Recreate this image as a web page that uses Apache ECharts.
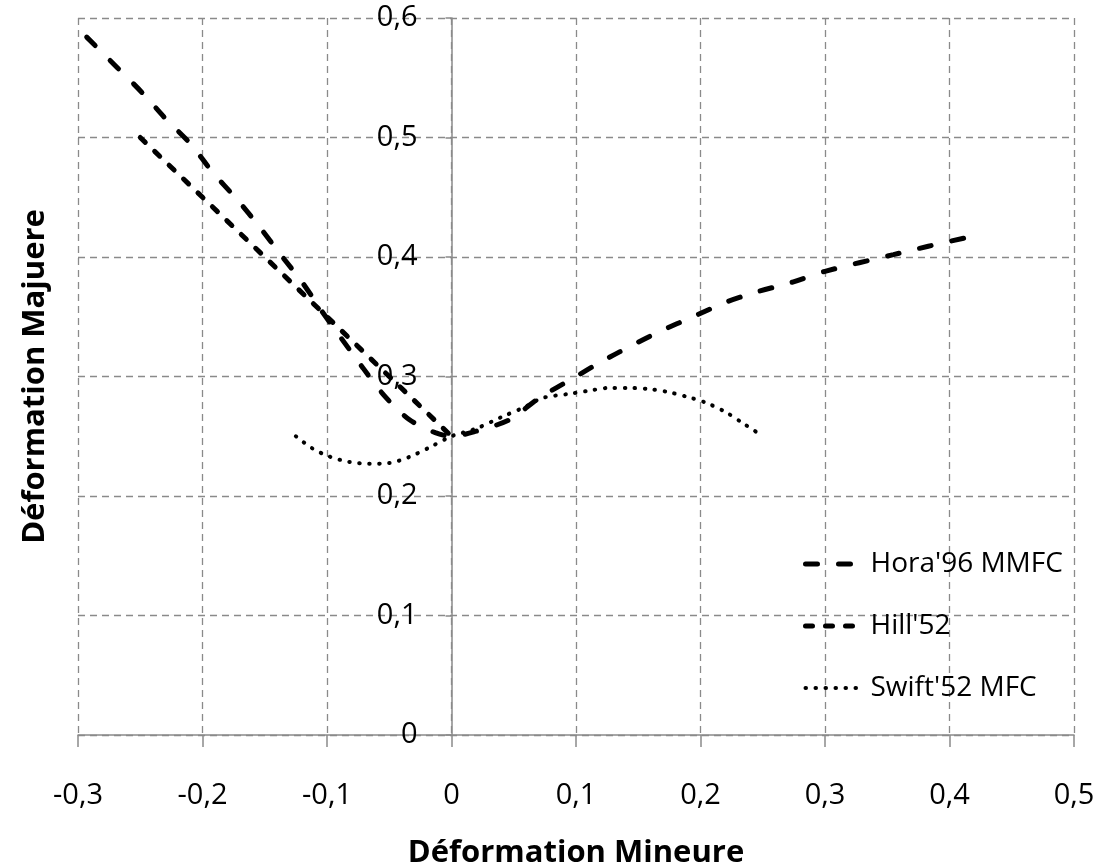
<!DOCTYPE html>
<html>
<head>
<meta charset="utf-8">
<script src="https://cdn.jsdelivr.net/npm/echarts@6/dist/echarts.min.js"></script>
<style>
  html, body { margin: 0; padding: 0; background: #fff; }
  #chart { width: 1099px; height: 868px; }
</style>
</head>
<body>
<div id="chart"></div>
<script>
// Forming limit curves: major strain vs minor strain
const seriesNames = ["Hora'96 MMFC", "Hill'52", "Swift'52 MFC"];

const horaX = [-0.293, -0.268, -0.248, -0.229, -0.209, -0.192, -0.173, -0.154, -0.138, -0.120, -0.105, -0.092, -0.071, -0.054, -0.034, -0.013, 0,
               0.019, 0.047, 0.069, 0.1, 0.118, 0.143, 0.168, 0.194, 0.22, 0.246, 0.274, 0.3, 0.355, 0.383, 0.417];
const horaY = [0.584, 0.558, 0.537, 0.515, 0.494, 0.471, 0.449, 0.425, 0.403, 0.379, 0.356, 0.337, 0.307, 0.284, 0.264, 0.253, 0.25,
               0.254, 0.264, 0.281, 0.3, 0.311, 0.325, 0.338, 0.350, 0.362, 0.371, 0.379, 0.388, 0.402, 0.409, 0.417];

const hillX = [-0.25, -0.2, -0.15, -0.1, -0.05, 0];
const hillY = [0.5, 0.45, 0.4, 0.35, 0.3, 0.25];

const swiftX = [-0.125, -0.112, -0.098, -0.082, -0.066, -0.05, -0.034, -0.017, 0, 0.02, 0.04, 0.06, 0.073, 0.094, 0.11, 0.126, 0.142, 0.159, 0.174, 0.19, 0.205, 0.22, 0.234, 0.25];
const swiftY = [0.25, 0.240, 0.233, 0.2285, 0.227, 0.2276, 0.2326, 0.241, 0.25, 0.2565, 0.266, 0.275, 0.282, 0.2854, 0.288, 0.2904, 0.2904, 0.2895, 0.287, 0.2828, 0.2778, 0.2703, 0.261, 0.25];

const xTicks = [-0.3, -0.2, -0.1, 0, 0.1, 0.2, 0.3, 0.4, 0.5];
const yTicks = [0, 0.1, 0.2, 0.3, 0.4, 0.5, 0.6];

const xTitle = 'Déformation Mineure';
const yTitle = 'Déformation Majuere';

function pairs(xs, ys) { return xs.map((x, i) => [x, ys[i]]); }
function fmt(v) {
  const r = Math.round(v * 10) / 10;
  return r === 0 ? '0' : r.toFixed(1).replace('.', ',');
}

const FONT = "'Open Sans', sans-serif";
const TEXT = '#000';
const GRID = { left: 78, right: 25, top: 18, bottom: 133 };
const plotW = 1099 - GRID.left - GRID.right;
const xMin = xTicks[0], xMax = xTicks[xTicks.length - 1];
// shift the value axis so that it crosses the other axis at minor strain = 0
const yAxisShift = -plotW * (0 - xMin) / (xMax - xMin);

const gridLine = { show: true, lineStyle: { color: '#8a8a8a', width: 1.3, type: [7, 5] } };
const axisLineStyle = { color: '#8a8a8a', width: 1.5 };

const lineStyles = [
  { color: '#000', width: 5, type: [12, 21], cap: 'round' },
  { color: '#000', width: 5, type: [7, 13], cap: 'round' },
  { color: '#000', width: 4, type: [0.5, 9.5], cap: 'round' }
];

const chart = echarts.init(document.getElementById('chart'), null, { renderer: 'canvas' });
chart.setOption({
  animation: false,
  backgroundColor: '#ffffff',
  grid: Object.assign({ containLabel: false, outerBoundsMode: 'none' }, GRID),
  xAxis: {
    type: 'value',
    min: xMin, max: xMax, interval: 0.1,
    axisLine: { show: true, onZero: false, lineStyle: axisLineStyle },
    axisTick: { show: true, length: 12, lineStyle: axisLineStyle },
    splitLine: gridLine,
    axisLabel: { margin: 46, color: TEXT, fontFamily: FONT, fontSize: 29, formatter: fmt },
    name: xTitle, nameLocation: 'middle', nameGap: 103,
    nameTextStyle: { fontFamily: FONT, fontWeight: 'bold', fontSize: 31, color: TEXT }
  },
  yAxis: {
    type: 'value',
    min: yTicks[0], max: yTicks[yTicks.length - 1], interval: 0.1,
    offset: yAxisShift,
    axisLine: { show: true, onZero: false, lineStyle: axisLineStyle },
    axisTick: { show: true, length: 6, lineStyle: axisLineStyle },
    splitLine: gridLine,
    axisLabel: { margin: 34, color: TEXT, fontFamily: FONT, fontSize: 29, formatter: fmt }
  },
  legend: {
    orient: 'vertical',
    left: 803, top: 549, padding: 0,
    itemWidth: 55, itemHeight: 30, itemGap: 32,
    itemStyle: { opacity: 0 },
    textStyle: { fontFamily: FONT, fontSize: 28, color: TEXT, lineHeight: 30, padding: [0, 0, 0, 5] },
    data: seriesNames.map((n, i) => ({ name: n, lineStyle: lineStyles[i], itemStyle: { opacity: 0 } }))
  },
  graphic: [{
    type: 'text',
    x: 35, y: GRID.top + (868 - GRID.top - GRID.bottom) / 2,
    rotation: Math.PI / 2,
    style: {
      text: yTitle, font: "bold 31px 'Open Sans', sans-serif", fill: TEXT,
      textAlign: 'center', textVerticalAlign: 'middle'
    }
  }],
  series: [
    {
      name: seriesNames[0], type: 'line', data: pairs(horaX, horaY),
      smooth: 0.3, symbol: 'none', lineStyle: lineStyles[0], itemStyle: { color: '#000' }
    },
    {
      name: seriesNames[1], type: 'line', data: pairs(hillX, hillY),
      smooth: false, symbol: 'none', lineStyle: lineStyles[1], itemStyle: { color: '#000' }
    },
    {
      name: seriesNames[2], type: 'line', data: pairs(swiftX, swiftY),
      smooth: 0.3, symbol: 'none', lineStyle: lineStyles[2], itemStyle: { color: '#000' }
    }
  ]
});
</script>
</body>
</html>
